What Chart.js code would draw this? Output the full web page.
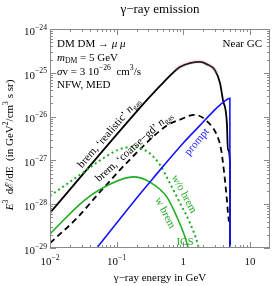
<!DOCTYPE html>
<html><head><meta charset="utf-8">
<script src="https://cdn.jsdelivr.net/npm/chart.js@4.4.0/dist/chart.umd.min.js"></script>
<style>html,body{margin:0;padding:0;background:#fff}#c{display:block}</style>
</head><body>
<canvas id="c" width="274" height="286"></canvas>
<script>
// ---- data ----
const E_brem_real = [0.01, 0.285, 0.501, 0.891, 1.26, 1.78, 2.24, 2.98, 3.55, 3.93, 4.51, 4.67, 5.0, 5.02];
const Y_brem_real = [6.3e-29, 2.4e-26, 6.0e-26, 1.35e-25, 1.66e-25, 1.78e-25, 1.58e-25, 1.15e-25, 5.9e-26, 2.4e-26, 7.1e-27, 1.74e-27, 1.02e-27, 1e-31];

const E_band = [0.75, 0.891, 1.26, 1.78, 2.24, 2.98, 3.2];
const Y_band = [1.2e-25, 1.37e-25, 1.68e-25, 1.8e-25, 1.6e-25, 1.17e-25, 9.5e-26];

const E_brem_coarse = [0.01, 0.0263, 0.0562, 0.178, 0.569, 0.891, 1.48, 2.26, 3.19, 3.66, 4.06, 4.51, 4.67, 4.84];
const Y_brem_coarse = [1.29e-29, 5.1e-29, 1.9e-28, 1.26e-27, 6.3e-27, 8.5e-27, 1.1e-26, 7.9e-27, 3.8e-27, 1.9e-27, 6.0e-28, 1.26e-28, 6.6e-29, 4.0e-29];

const E_ics_wo = [0.01, 0.0282, 0.0562, 0.105, 0.174, 0.295, 0.447, 0.631, 0.891, 1.26, 1.66, 1.86];
const Y_ics_wo = [1.55e-28, 4.7e-28, 1.0e-27, 1.74e-27, 2.04e-27, 1.55e-27, 7.9e-28, 3.0e-28, 1.07e-28, 3.7e-29, 1.17e-29, 5e-30];

const E_ics_w = [0.01, 0.0335, 0.0851, 0.176, 0.316, 0.569, 0.802, 1.06, 1.21];
const Y_ics_w = [2.1e-29, 1.26e-28, 3.0e-28, 4.2e-28, 3.2e-28, 1.45e-28, 5.1e-29, 1.78e-29, 8.9e-30];

const E_prompt = [0.04, 0.1, 0.2, 0.316, 0.501, 1.0, 1.78, 2.82, 3.98, 5.0, 5.01];
const Y_prompt = [6.5e-30, 3.7e-29, 1.38e-28, 3.2e-28, 7.4e-28, 2.5e-27, 6.3e-27, 1.32e-26, 2.14e-26, 2.63e-26, 1e-31];

const xTickValues = [0.01, 0.1, 1, 10];
const xTickLabels = [['10', '−2'], ['10', '−1'], ['1', ''], ['10', '']];
const yTickValues = [1e-24, 1e-25, 1e-26, 1e-27, 1e-28, 1e-29];
const yTickLabels = [['10', '−24'], ['10', '−25'], ['10', '−26'], ['10', '−27'], ['10', '−28'], ['10', '−29']];

const BLUE = '#1414ff', GREEN = '#22aa22', BLACK = '#000';
const FAM = '"Liberation Serif", "DejaVu Serif", serif';

function pts(xs, ys) { return xs.map((x, i) => ({x: x, y: ys[i]})); }

function rich(ctx, segs, x, y, align, size) {
  const font = k => {
    const s = (k === 'sub' || k === 'sup') ? size * 0.7 : size;
    return (k === 'i' ? 'italic ' : '') + s + 'px ' + FAM;
  };
  let w = 0;
  for (const [t, k] of segs) { ctx.font = font(k); w += ctx.measureText(t).width; }
  let cx = align === 'center' ? x - w / 2 : align === 'right' ? x - w : x;
  ctx.textAlign = 'left';
  ctx.textBaseline = 'middle';
  for (const [t, k] of segs) {
    ctx.font = font(k);
    const dy = k === 'sub' ? size * 0.3 : k === 'sup' ? -size * 0.4 : 0;
    ctx.fillText(t, cx, y + dy);
    cx += ctx.measureText(t).width;
  }
}
function rot(ctx, segs, x, y, deg, size, color) {
  ctx.save();
  ctx.fillStyle = color;
  ctx.translate(x, y);
  ctx.rotate(deg * Math.PI / 180);
  rich(ctx, segs, 0, 0, 'center', size);
  ctx.restore();
}

const deco = {
  id: 'deco',
  afterDraw(chart) {
    const ctx = chart.ctx, a = chart.chartArea;
    const xs = chart.scales.x, ys = chart.scales.y;
    ctx.save();
    // frame
    ctx.strokeStyle = '#8a8a8a';
    ctx.lineWidth = 1;
    ctx.strokeRect(Math.round(a.left) + 0.5, Math.round(a.top) + 0.5, Math.round(a.right - a.left) - 1, Math.round(a.bottom - a.top) - 1);
    // ticks
    ctx.beginPath();
    for (let n = -2; n <= 1; n++) {
      for (let k = 1; k <= 9; k++) {
        const v = k * Math.pow(10, n);
        if (v >= 20) break;
        const p = Math.round(xs.getPixelForValue(v)) + 0.5;
        const L = k === 1 ? 6 : 3;
        ctx.moveTo(p, a.bottom); ctx.lineTo(p, a.bottom - L);
        ctx.moveTo(p, a.top); ctx.lineTo(p, a.top + L);
      }
    }
    for (let n = -29; n <= -25; n++) {
      for (let k = 1; k <= 9; k++) {
        const v = k * Math.pow(10, n);
        const p = Math.round(ys.getPixelForValue(v)) + 0.5;
        const L = k === 1 ? 6 : 3;
        ctx.moveTo(a.left, p); ctx.lineTo(a.left + L, p);
        ctx.moveTo(a.right, p); ctx.lineTo(a.right - L, p);
      }
    }
    ctx.stroke();
    // tick labels
    ctx.fillStyle = '#111';
    xTickValues.forEach((v, i) => {
      const [b, e] = xTickLabels[i];
      const segs = e ? [[b, 'n'], [e, 'sup']] : [[b, 'n']];
      rich(ctx, segs, xs.getPixelForValue(v), a.bottom + 14, 'center', 11);
    });
    yTickValues.forEach((v, i) => {
      const [b, e] = yTickLabels[i];
      rich(ctx, [[b, 'n'], [e, 'sup']], a.left - 3, ys.getPixelForValue(v) + 3, 'right', 11);
    });
    // titles
    ctx.fillStyle = '#000';
    rich(ctx, [['γ−ray emission', 'n']], (a.left + a.right) / 2, 10, 'center', 13);
    rich(ctx, [['γ−ray energy in GeV', 'n']], (a.left + a.right) / 2, 278, 'center', 11);
    rot(ctx, [['E', 'i'], ['3', 'sup'], ['  dℰ/dE  (in GeV', 'n'], ['2', 'sup'], ['/cm', 'n'], ['3', 'sup'], [' s sr)', 'n']], 10, 145, -90, 11, '#000');
    // info box
    rich(ctx, [['DM DM → ', 'n'], ['μ μ', 'i']], 57, 44, 'left', 11);
    rich(ctx, [['m', 'i'], ['DM', 'sub'], [' = 5 GeV', 'n']], 57, 58, 'left', 11);
    rich(ctx, [['σ', 'i'], ['v = 3 10', 'n'], ['−26', 'sup'], ['  cm', 'n'], ['3', 'sup'], ['/s', 'n']], 57, 72, 'left', 11);
    rich(ctx, [['NFW, MED', 'n']], 57, 85, 'left', 11);
    rich(ctx, [['Near GC', 'n']], 262, 44, 'right', 11);
    // curve labels
    rot(ctx, [['brem, ‘realistic’ ', 'n'], ['n', 'i'], ['gas', 'sub']], 109, 133, -49, 11, BLACK);
    rot(ctx, [['brem, ‘coarse−gd’ ', 'n'], ['n', 'i'], ['gas', 'sub']], 134, 147, -42, 11, BLACK);
    rot(ctx, [['prompt', 'n']], 197, 142, -50, 11, BLUE);
    rot(ctx, [['w/o brem', 'n']], 184, 194, 62, 11, GREEN);
    rot(ctx, [['w brem', 'n']], 165, 213, 63, 11, GREEN);
    rot(ctx, [['ICS', 'n']], 185, 242, 0, 11, GREEN);
    ctx.restore();
  }
};

const common = {fill: false, pointRadius: 0, cubicInterpolationMode: 'monotone'};
new Chart(document.getElementById('c'), {
  type: 'line',
  data: {
    datasets: [
      Object.assign({label: 'band', data: pts(E_band, Y_band), borderColor: 'rgba(200,120,160,0.22)', borderWidth: 4}, common),
      Object.assign({label: 'prompt', data: pts(E_prompt, Y_prompt), borderColor: BLUE, borderWidth: 1.6}, common),
      Object.assign({label: 'ICS w/o brem', data: pts(E_ics_wo, Y_ics_wo), borderColor: GREEN, borderWidth: 2, borderDash: [2, 3]}, common),
      Object.assign({label: 'ICS w brem', data: pts(E_ics_w, Y_ics_w), borderColor: GREEN, borderWidth: 1.6}, common),
      Object.assign({label: 'brem coarse', data: pts(E_brem_coarse, Y_brem_coarse), borderColor: BLACK, borderWidth: 1.8, borderDash: [6, 4]}, common),
      Object.assign({label: 'brem realistic', data: pts(E_brem_real, Y_brem_real), borderColor: BLACK, borderWidth: 1.8}, common)
    ]
  },
  options: {
    responsive: false,
    animation: false,
    devicePixelRatio: 1,
    layout: {padding: {left: 50, right: 4, top: 29, bottom: 38}},
    plugins: {legend: {display: false}, tooltip: {enabled: false}},
    scales: {
      x: {type: 'logarithmic', min: 0.01, max: 20, display: false},
      y: {type: 'logarithmic', min: 1e-29, max: 1e-24, display: false}
    }
  },
  plugins: [deco]
});
</script>
</body></html>
